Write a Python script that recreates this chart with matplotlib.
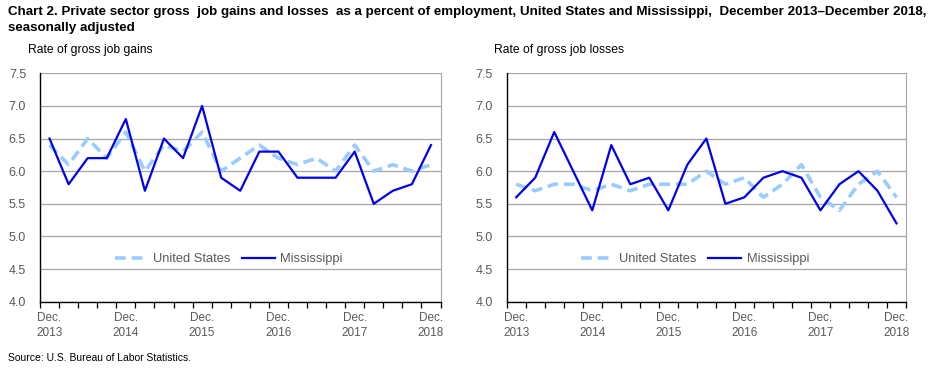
import matplotlib
matplotlib.use("Agg")
import matplotlib.pyplot as plt
from matplotlib import font_manager
import numpy as np

names = {f.name for f in font_manager.fontManager.ttflist}
narrow = "Liberation Sans Narrow" if "Liberation Sans Narrow" in names else "Liberation Sans"
regular = "Liberation Sans"

quarters = ["Dec.\n2013", "", "", "", "Dec.\n2014", "", "", "", "Dec.\n2015", "", "", "",
            "Dec.\n2016", "", "", "", "Dec.\n2017", "", "", "", "Dec.\n2018"]

us_gains = [6.4, 6.1, 6.5, 6.2, 6.6, 6.0, 6.4, 6.3, 6.6, 6.0, 6.2, 6.4, 6.2, 6.1, 6.2, 6.0, 6.4, 6.0, 6.1, 6.0, 6.1]
ms_gains = [6.5, 5.8, 6.2, 6.2, 6.8, 5.7, 6.5, 6.2, 7.0, 5.9, 5.7, 6.3, 6.3, 5.9, 5.9, 5.9, 6.3, 5.5, 5.7, 5.8, 6.4]
us_losses = [5.8, 5.7, 5.8, 5.8, 5.7, 5.8, 5.7, 5.8, 5.8, 5.8, 6.0, 5.8, 5.9, 5.6, 5.8, 6.1, 5.6, 5.4, 5.8, 6.0, 5.6]
ms_losses = [5.6, 5.9, 6.6, 6.0, 5.4, 6.4, 5.8, 5.9, 5.4, 6.1, 6.5, 5.5, 5.6, 5.9, 6.0, 5.9, 5.4, 5.8, 6.0, 5.7, 5.2]
yticks = [4.0, 4.5, 5.0, 5.5, 6.0, 6.5, 7.0, 7.5]

W, H = 930, 372
fig = plt.figure(figsize=(W / 100, H / 100), dpi=100)

def axrect(x0, x1, ytop, ybot):
    return [x0 / W, 1 - ybot / H, (x1 - x0) / W, (ybot - ytop) / H]

panels = [
    (axrect(40, 440.5, 73.3, 301.7), us_gains, ms_gains, "Rate of gross job gains", 28),
    (axrect(506.7, 906, 73.3, 301.7), us_losses, ms_losses, "Rate of gross job losses", 494),
]

gray = "#595959"
for rect, us, ms, ylab, labx in panels:
    ax = fig.add_axes(rect)
    x = np.arange(len(us))
    ax.plot(x, us, color="#99CCFF", lw=2.6, ls=(0, (3, 1.6)), label="United States", zorder=3)
    ax.plot(x, ms, color="#0000EE", lw=1.6, label="Mississippi", zorder=4)
    ax.set_xlim(-0.5, len(us) - 0.5)
    ax.set_ylim(4.0, 7.5)
    ax.set_yticks(yticks)
    ax.set_yticklabels([f"{v:.1f}" for v in yticks], fontsize=9, color=gray, family=regular)
    ax.tick_params(axis="y", length=0, pad=10)
    ax.grid(axis="y", color="#A6A6A6", lw=0.9)
    ax.set_axisbelow(True)
    ax.set_xticks(np.arange(-0.5, len(us), 1.0), minor=True)
    ax.set_xticks(x)
    ax.set_xticklabels(quarters, fontsize=8.5, color=gray, family=narrow, linespacing=1.35)
    ax.tick_params(axis="x", which="major", length=0, pad=7.5)
    ax.tick_params(axis="x", which="minor", length=4, width=0.9, color="black", direction="out")
    ax.spines["top"].set_visible(False)
    ax.spines["right"].set_color("#A6A6A6")
    ax.spines["left"].set_color("black")
    ax.spines["bottom"].set_color("black")
    ax.spines["left"].set_linewidth(1.0)
    ax.spines["bottom"].set_linewidth(1.0)
    leg = ax.legend(loc="center", bbox_to_anchor=(0.472, 0.185), ncol=2, frameon=False,
                    prop={"family": regular, "size": 9.3}, handlelength=2.5, columnspacing=0.9,
                    handletextpad=0.45)
    for t in leg.get_texts():
        t.set_color(gray)
    fig.text(labx / W, 1 - 50 / H, ylab, fontsize=8.7, family=narrow, va="center", ha="left")

fig.text(8 / W, 1 - 12 / H,
         "Chart 2. Private sector gross  job gains and losses  as a percent of employment, United States and Mississippi,  December 2013\u2013December 2018,",
         fontsize=9.6, fontweight="bold", family=narrow, va="center", ha="left")
fig.text(8 / W, 1 - 28 / H, "seasonally adjusted",
         fontsize=9.6, fontweight="bold", family=narrow, va="center", ha="left")
fig.text(8 / W, 1 - 358 / H, "Source: U.S. Bureau of Labor Statistics.",
         fontsize=7.5, family=narrow, va="center", ha="left")

fig.savefig("out.png", dpi=100)
